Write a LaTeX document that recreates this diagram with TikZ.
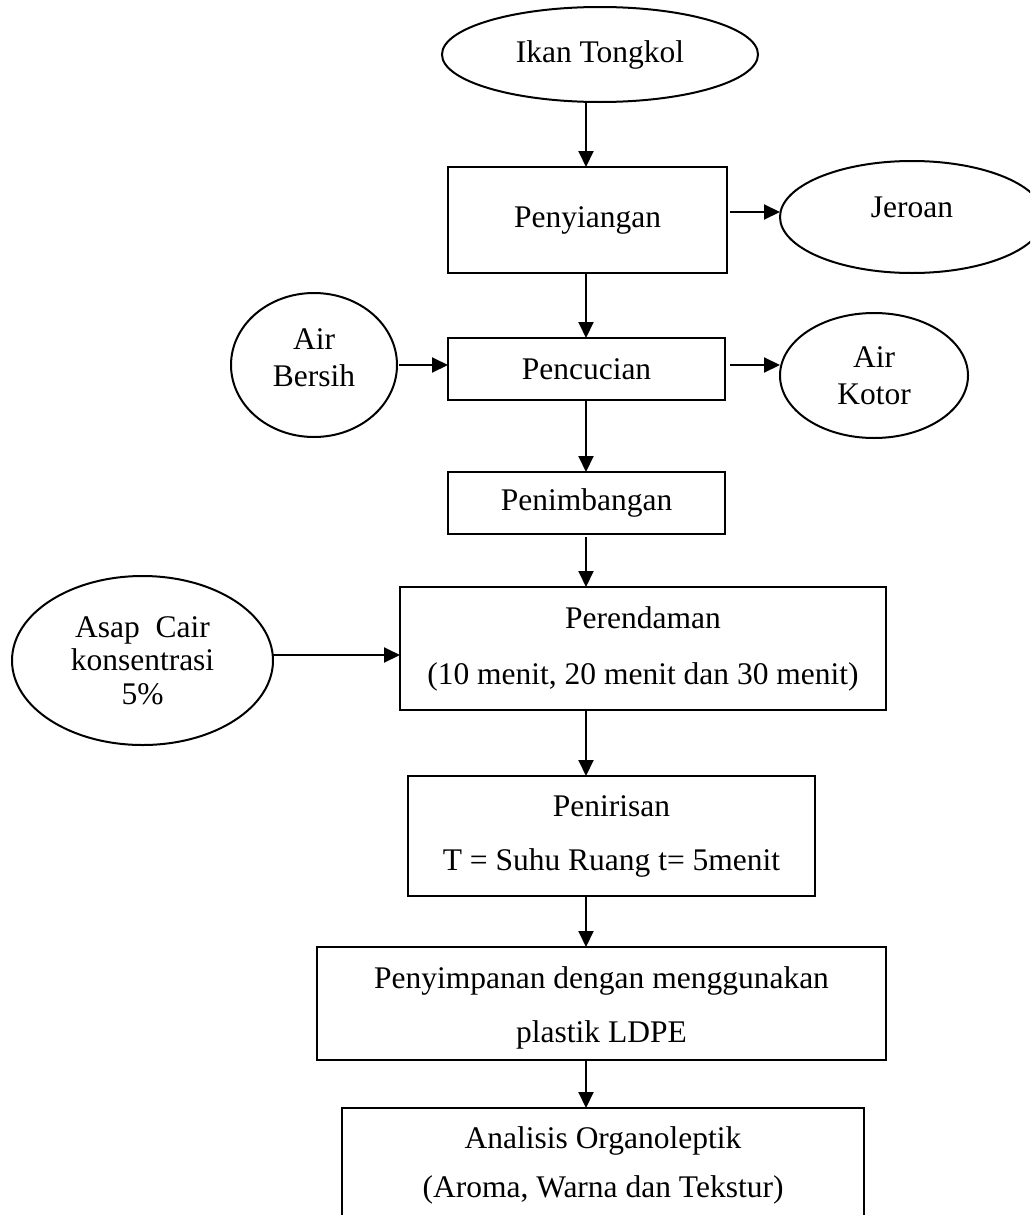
\documentclass[tikz,border=0pt]{standalone}
\usepackage{fontspec}
\setmainfont{Liberation Serif}
\usetikzlibrary{arrows.meta,shapes.geometric}
\newcommand{\px}{0.5pt}
\newcommand{\dpt}[1]{\rule[-#1]{0pt}{#1}}
\tikzset{
  procbox/.style={draw, rectangle, line width=1pt, inner sep=0pt, outer sep=0pt, align=center},
  ovalnode/.style={draw, ellipse, line width=1pt, inner sep=0pt, outer sep=0pt, align=center},
  flowarrow/.style={line width=1pt, -{Triangle[length=8pt,width=7.5pt]}},
  txt/.style={font=\fontsize{15.75pt}{#1}\selectfont},
  txt/.default={18.5pt}
}
\begin{document}
\begin{tikzpicture}[x=0.5pt,y=-0.5pt]
\fill[white] (0,0) rectangle (1030,1215);
\useasboundingbox (0,0) rectangle (1030,1215);
\clip (0,0) rectangle (1030,1215);

\node[ovalnode, txt, minimum width=316*\px, minimum height=95*\px] (ikan) at (600,54.5) {Ikan Tongkol};
\node[procbox, txt, minimum width=279*\px, minimum height=106*\px] (peny) at (587.5,220) {Penyiangan};
\node[ovalnode, txt, text height=10pt, text depth=10pt, minimum width=264*\px, minimum height=112*\px] (jer) at (912,217) {Jeroan};
\node[ovalnode, txt={18.5pt}, minimum width=166*\px, minimum height=144*\px] (bersih) at (314,365) {Air\\Bersih\dpt{7.25pt}};
\node[procbox, txt, minimum width=277*\px, minimum height=62*\px] (cuci) at (586.5,369) {Pencucian};
\node[ovalnode, txt={18.5pt}, minimum width=188*\px, minimum height=125*\px] (kotor) at (874,375.5) {Air\\Kotor};
\node[procbox, txt, minimum width=277*\px, minimum height=62*\px] (timbang) at (586.5,503) {Penimbangan};
\node[ovalnode, txt={16.75pt}, minimum width=261*\px, minimum height=169*\px] (asap) at (142.5,660.5) {Asap~~Cair\\konsentrasi\\5\%};
\node[procbox, txt={28pt}, minimum width=486*\px, minimum height=123*\px] (rendam) at (643,648.5) {Perendaman\\(10 menit, 20 menit dan 30 menit)};
\node[procbox, txt={27pt}, minimum width=407*\px, minimum height=120*\px] (tiris) at (611.5,836) {Penirisan\\T = Suhu Ruang t= 5menit};
\node[procbox, txt={27pt}, minimum width=569*\px, minimum height=113*\px] (simpan) at (601.5,1003.5) {\rule{0pt}{15pt}Penyimpanan dengan menggunakan\\plastik LDPE};
\node[procbox, txt={24.5pt}, minimum width=522*\px, minimum height=114*\px] (analisis) at (603,1165) {Analisis Organoleptik\\(Aroma, Warna dan Tekstur)};

\coordinate (vx) at (586,0);
\coordinate (yj) at (0,212);
\coordinate (ya) at (0,365);
\coordinate (ys) at (0,655);

\draw[flowarrow] (ikan.south -| vx) -- (peny.north -| vx);
\draw[flowarrow] (peny.south -| vx) -- (cuci.north -| vx);
\draw[flowarrow] (cuci.south -| vx) -- (timbang.north -| vx);
\draw[flowarrow, shorten <=1.5pt] (timbang.south -| vx) -- (rendam.north -| vx);
\draw[flowarrow] (rendam.south -| vx) -- (tiris.north -| vx);
\draw[flowarrow] (tiris.south -| vx) -- (simpan.north -| vx);
\draw[flowarrow] (simpan.south -| vx) -- (analisis.north -| vx);

\draw[flowarrow, shorten <=1.5pt] (peny.east |- yj) -- (jer.west |- yj);
\draw[flowarrow, shorten <=1pt] (bersih.east |- ya) -- (cuci.west |- ya);
\draw[flowarrow, shorten <=2.5pt] (cuci.east |- ya) -- (kotor.west |- ya);
\draw[flowarrow] (asap.east |- ys) -- (rendam.west |- ys);
\end{tikzpicture}
\end{document}
